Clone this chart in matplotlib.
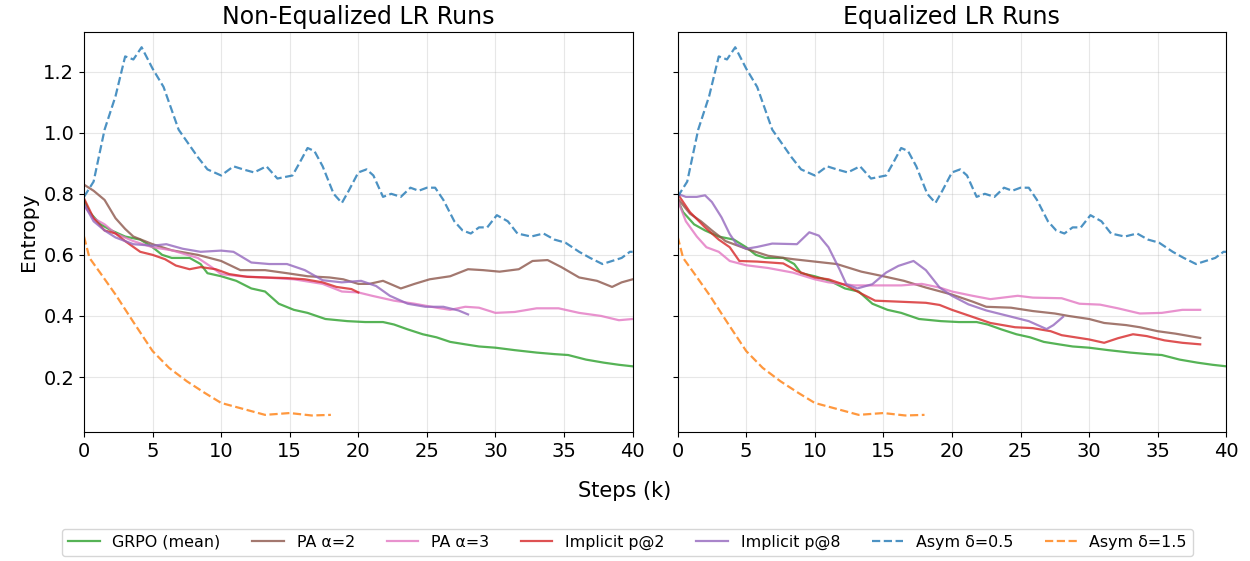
import matplotlib.pyplot as plt
import numpy as np

# shared runs (same in both panels)
grpo_x = [0, 0.4, 1.2, 2, 3, 4.1, 5, 5.7, 6.4, 7.7, 8.5, 9, 10, 11.1, 12.2, 13.2, 14.2, 15.3, 16.3,
          17.6, 19.2, 20.5, 21.8, 22.6, 23.6, 24.7, 25.7, 26.7, 27.8, 28.8, 30, 31.4, 33, 34.3, 35.3,
          36.6, 37.9, 39, 40]
grpo_y = [0.78, 0.74, 0.70, 0.68, 0.66, 0.65, 0.625, 0.60, 0.59, 0.59, 0.57, 0.54, 0.53, 0.515, 0.49,
          0.48, 0.44, 0.42, 0.41, 0.39, 0.383, 0.38, 0.38, 0.372, 0.356, 0.34, 0.33, 0.315, 0.307, 0.30,
          0.296, 0.288, 0.28, 0.275, 0.272, 0.257, 0.247, 0.24, 0.235]

asym05_x = [0, 0.7, 1.5, 2.3, 3.0, 3.6, 4.2, 5, 5.8, 6.9, 8.3, 9, 10, 10.9, 11.6, 12.4, 13.3, 14.1,
            15.2, 15.7, 16.3, 16.8, 17.4, 18.2, 18.8, 19.3, 20, 20.6, 21.1, 21.8, 22.4, 23.1, 23.8,
            24.4, 25, 25.6, 26.2, 27, 27.6, 28.2, 28.8, 29.4, 30.1, 30.9, 31.6, 32.6, 33.5, 34.3,
            35.1, 36.1, 36.9, 37.8, 38.5, 39.2, 39.8, 40]
asym05_y = [0.79, 0.84, 1.01, 1.12, 1.25, 1.24, 1.28, 1.21, 1.15, 1.01, 0.92, 0.88, 0.86, 0.89, 0.88,
            0.87, 0.89, 0.85, 0.86, 0.90, 0.95, 0.94, 0.89, 0.80, 0.77, 0.81, 0.87, 0.88, 0.86, 0.79,
            0.80, 0.79, 0.82, 0.81, 0.82, 0.82, 0.78, 0.71, 0.68, 0.67, 0.69, 0.69, 0.73, 0.71, 0.67,
            0.66, 0.67, 0.65, 0.64, 0.61, 0.59, 0.57, 0.58, 0.59, 0.61, 0.61]

asym15_x = [0, 0.4, 1.2, 2.3, 3.6, 5, 6.2, 7.5, 8.8, 10, 11.4, 13.2, 15, 16.6, 18]
asym15_y = [0.66, 0.59, 0.54, 0.47, 0.38, 0.285, 0.23, 0.186, 0.148, 0.115, 0.098, 0.076, 0.082,
            0.074, 0.076]

# non-equalized LR runs
ne_pa2_x = [0, 0.7, 1.5, 2.3, 3, 3.6, 5, 6.4, 8.3, 10, 11.4, 13.2, 14.8, 16.3, 17.9, 18.9, 20, 20.8,
            21.8, 23.1, 24.1, 25.2, 26.7, 28, 29.1, 30.3, 31.7, 32.7, 33.8, 34.8, 36.1, 37.4, 38.5,
            39.2, 40]
ne_pa2_y = [0.83, 0.81, 0.78, 0.72, 0.685, 0.66, 0.635, 0.615, 0.60, 0.58, 0.55, 0.55, 0.54, 0.53,
            0.526, 0.52, 0.505, 0.505, 0.515, 0.49, 0.505, 0.52, 0.53, 0.553, 0.55, 0.545, 0.553, 0.58,
            0.583, 0.56, 0.526, 0.515, 0.495, 0.51, 0.52]
ne_pa3_x = [0, 0.7, 1.5, 2.3, 3.6, 5, 6.4, 8.3, 9.3, 10, 11.4, 13.2, 15.3, 17.4, 18.8, 20, 21, 22.6,
            24.1, 25.7, 26.7, 27.8, 28.8, 30, 31.4, 33, 34.6, 36.1, 37.7, 39, 40]
ne_pa3_y = [0.76, 0.72, 0.70, 0.67, 0.645, 0.625, 0.615, 0.59, 0.56, 0.537, 0.53, 0.526, 0.52, 0.505,
            0.48, 0.477, 0.466, 0.45, 0.44, 0.427, 0.42, 0.43, 0.427, 0.41, 0.413, 0.425, 0.425, 0.41,
            0.40, 0.386, 0.39]
ne_imp2_x = [0, 0.7, 1.5, 2.3, 3, 4.1, 5, 5.9, 6.7, 7.7, 8.5, 9.6, 10.6, 11.9, 13.2, 14.8, 16.1,
             17.4, 18.4, 19.5, 20]
ne_imp2_y = [0.785, 0.72, 0.68, 0.67, 0.645, 0.61, 0.60, 0.586, 0.565, 0.553, 0.56, 0.553, 0.537,
             0.528, 0.526, 0.524, 0.52, 0.51, 0.495, 0.488, 0.477]
ne_imp8_x = [0, 0.7, 1.5, 2.3, 3.6, 5, 6.0, 7.2, 8.5, 10, 10.9, 12.2, 13.5, 14.8, 16.1, 17.4, 18.8,
             20.2, 21.3, 22.3, 23.6, 24.9, 26.2, 27.3, 28]
ne_imp8_y = [0.767, 0.71, 0.68, 0.657, 0.635, 0.63, 0.635, 0.62, 0.61, 0.614, 0.61, 0.575, 0.57,
             0.57, 0.55, 0.517, 0.51, 0.515, 0.498, 0.466, 0.44, 0.43, 0.43, 0.418, 0.405]

# equalized LR runs
eq_pa2_x = [0, 0.9, 1.7, 2.5, 3.5, 5, 6.6, 8.4, 10, 11.6, 13.4, 15, 16.5, 18.1, 20, 21.5, 22.5, 24.3,
            25.9, 27.5, 28.5, 30, 31.1, 32.7, 33.7, 35, 36.3, 38.1]
eq_pa2_y = [0.785, 0.735, 0.71, 0.68, 0.645, 0.62, 0.597, 0.586, 0.578, 0.57, 0.545, 0.53, 0.515,
            0.493, 0.47, 0.447, 0.43, 0.427, 0.416, 0.408, 0.40, 0.39, 0.377, 0.37, 0.363, 0.35,
            0.342, 0.328]
eq_pa3_x = [0, 0.6, 1.4, 2.1, 3.0, 3.8, 5, 6.6, 8.4, 10, 11.0, 12.9, 14.4, 16.3, 17.8, 19.1, 20,
            21.5, 22.8, 24.8, 25.9, 28, 29.3, 30.8, 32.1, 33.7, 35.3, 36.8, 38.1]
eq_pa3_y = [0.78, 0.71, 0.66, 0.625, 0.61, 0.58, 0.566, 0.557, 0.542, 0.52, 0.51, 0.50, 0.50, 0.50,
            0.505, 0.493, 0.48, 0.466, 0.455, 0.466, 0.46, 0.458, 0.44, 0.437, 0.425, 0.408, 0.41,
            0.42, 0.42]
eq_imp2_x = [0, 0.9, 2.0, 3.0, 3.8, 4.5, 5.8, 7.7, 8.7, 10, 11.0, 12.3, 13.4, 14.4, 16.0, 18.1, 19.1,
             20, 21.5, 22.8, 24.6, 25.9, 27.2, 28.0, 30, 31.1, 32.1, 33.2, 34.2, 35.5, 36.8, 38.1]
eq_imp2_y = [0.80, 0.74, 0.69, 0.65, 0.625, 0.58, 0.578, 0.572, 0.547, 0.526, 0.52, 0.50, 0.473,
             0.45, 0.447, 0.443, 0.436, 0.42, 0.397, 0.377, 0.363, 0.36, 0.35, 0.337, 0.323, 0.312,
             0.327, 0.34, 0.334, 0.32, 0.312, 0.307]
eq_imp8_x = [0, 0.6, 1.4, 2.0, 2.5, 3.2, 3.8, 4.3, 5, 5.8, 6.9, 8.7, 9.6, 10.3, 11.0, 11.8, 12.3,
             13.1, 14.2, 15.2, 16.1, 17.2, 18.1, 19.1, 20, 21.2, 22.5, 24.1, 25.6, 26.9, 27.4, 28.1]
eq_imp8_y = [0.80, 0.79, 0.79, 0.795, 0.773, 0.723, 0.668, 0.635, 0.62, 0.626, 0.637, 0.635, 0.674,
             0.663, 0.625, 0.553, 0.504, 0.49, 0.504, 0.542, 0.564, 0.58, 0.55, 0.493, 0.466, 0.438,
             0.418, 0.40, 0.383, 0.357, 0.37, 0.397]

labels = ["GRPO (mean)", "PA α=2", "PA α=3", "Implicit p@2", "Implicit p@8", "Asym δ=0.5", "Asym δ=1.5"]
colors = ["tab:green", "tab:brown", "tab:pink", "tab:red", "tab:purple", "tab:blue", "tab:orange"]
styles = ["-", "-", "-", "-", "-", "--", "--"]

panels = [
    ("Non-Equalized LR Runs", [(grpo_x, grpo_y), (ne_pa2_x, ne_pa2_y), (ne_pa3_x, ne_pa3_y),
                               (ne_imp2_x, ne_imp2_y), (ne_imp8_x, ne_imp8_y),
                               (asym05_x, asym05_y), (asym15_x, asym15_y)]),
    ("Equalized LR Runs", [(grpo_x, grpo_y), (eq_pa2_x, eq_pa2_y), (eq_pa3_x, eq_pa3_y),
                           (eq_imp2_x, eq_imp2_y), (eq_imp8_x, eq_imp8_y),
                           (asym05_x, asym05_y), (asym15_x, asym15_y)]),
]

fig, axes = plt.subplots(1, 2, figsize=(12.5, 5.61), dpi=100, sharey=True)
fig.subplots_adjust(left=0.0672, right=0.981, top=0.943, bottom=0.23, wspace=0.082)

for ax, (title, runs) in zip(axes, panels):
    for (x, y), lab, c, ls in zip(runs, labels, colors, styles):
        ax.plot(x, y, ls, color=c, lw=1.6, alpha=0.8, label=lab)
    ax.set_title(title, fontsize=17)
    ax.set_xlim(0, 40)
    ax.set_ylim(0.02, 1.33)
    ax.set_xticks(np.arange(0, 41, 5))
    ax.set_yticks([0.2, 0.4, 0.6, 0.8, 1.0, 1.2])
    ax.tick_params(labelsize=14)
    ax.grid(True, alpha=0.3)

axes[0].set_ylabel("Entropy", fontsize=14.5)
fig.text(0.5, 0.125, "Steps (k)", ha="center", va="center", fontsize=15)

handles, labs = axes[0].get_legend_handles_labels()
fig.legend(handles, labs, loc="center", bbox_to_anchor=(0.502, 0.033), ncol=7, fontsize=11.4)

plt.savefig("out.png")
